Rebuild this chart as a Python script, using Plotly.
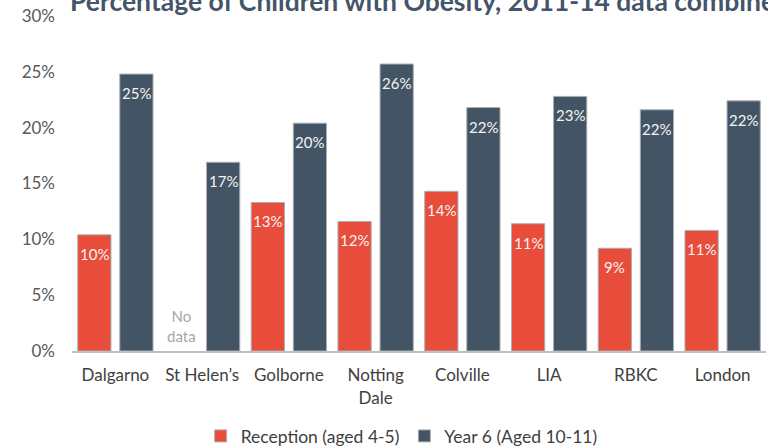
import plotly.graph_objects as go

categories = ["Dalgarno", "St Helen’s", "Golborne", "Notting<br>Dale", "Colville", "LIA", "RBKC", "London"]
reception = [10.4, None, 13.3, 11.6, 14.3, 11.4, 9.2, 10.8]
year6 = [24.8, 16.9, 20.4, 25.7, 21.8, 22.8, 21.6, 22.4]
ytick_vals = [0, 5, 10, 15, 20, 25, 30]
ytick_text = ["0%", "5%", "10%", "15%", "20%", "25%", "30%"]

RED = "#E84C3A"
SLATE = "#435464"
OUTLINE = "#A9AEB3"
FONT = "Lato"

fig = go.Figure()
series = [("Reception (aged 4-5)", reception, RED, -21), ("Year 6 (Aged 10-11)", year6, SLATE, 21)]
for name, vals, col, shift in series:
    fig.add_bar(
        name=name, x=categories, y=vals,
        marker=dict(color=col, line=dict(color=OUTLINE, width=1)),
    )
    for cat, v in zip(categories, vals):
        if v is None:
            continue
        fig.add_annotation(
            x=cat, y=v, xref="x", yref="y", xshift=shift, yshift=-19,
            text=f"{v:.0f}%", showarrow=False, yanchor="middle",
            font=dict(family=FONT, size=15, color="#F4F4F4"),
        )

fig.add_annotation(
    x="St Helen’s", y=0, xref="x", yref="y", xshift=-21, yshift=4,
    text="No<br>data", showarrow=False, yanchor="bottom",
    font=dict(family=FONT, size=15, color="#A6A6A6"),
)
fig.add_annotation(
    x=0, y=1.045, xref="paper", yref="paper", xanchor="left", yanchor="middle",
    text="<b>Percentage of Children with Obesity, 2011-14 data combined</b>",
    showarrow=False, font=dict(family=FONT, size=26.5, color="#44546A"),
    xshift=-4,
)

fig.update_layout(
    width=768, height=447,
    margin=dict(l=72, r=2, t=16, b=96, autoexpand=False),
    paper_bgcolor="white", plot_bgcolor="white",
    barmode="group", bargap=0.03, bargroupgap=0.21,
    font=dict(family=FONT, color="#404040"),
    legend=dict(orientation="h", x=0.475, xanchor="center", y=-0.2, yanchor="top",
                font=dict(family=FONT, size=17.5, color="#404040"),
                itemwidth=30),
    showlegend=True,
)
fig.update_xaxes(showline=True, linecolor="#BFBFBF", linewidth=2, ticks="", automargin=False,
                 ticklabelstandoff=8,
                 tickfont=dict(family=FONT, size=17, color="#404040"))
fig.update_yaxes(range=[0, 30], tickvals=ytick_vals, ticktext=ytick_text, showgrid=False,
                 zeroline=False, showline=False, ticks="", ticklabelstandoff=16, automargin=False,
                 tickfont=dict(family=FONT, size=17, color="#595959"))

fig.write_html("out.html", config={"displayModeBar": False},
               post_script="document.body.style.margin='0';")
